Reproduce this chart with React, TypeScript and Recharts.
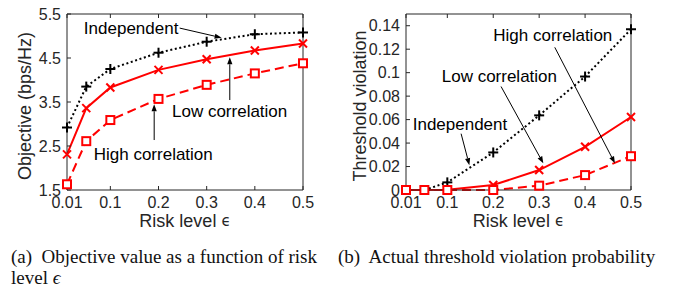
import React from "react";
import { LineChart, Line, XAxis, YAxis, ReferenceLine, ReferenceDot, Label } from "recharts";

// risk level on the x axis of both panels
const risk = [0.01, 0.05, 0.1, 0.2, 0.3, 0.4, 0.5];
const riskTicks = [0.01, 0.1, 0.2, 0.3, 0.4, 0.5];

// (a) objective, bps/Hz
const objIndependent = [2.92, 3.85, 4.25, 4.62, 4.87, 5.04, 5.08];
const objLow = [2.31, 3.36, 3.83, 4.23, 4.47, 4.67, 4.83];
const objHigh = [1.63, 2.61, 3.09, 3.57, 3.89, 4.15, 4.38];
const objTicks = [1.5, 2, 2.5, 3, 3.5, 4, 4.5, 5, 5.5];

// (b) actual threshold violation probability
const vioIndependent = [0, 0, 0.0065, 0.032, 0.0636, 0.0967, 0.137];
const vioLow = [0, 0, 0.0003, 0.0042, 0.017, 0.0368, 0.0622];
const vioHigh = [0, 0, 0, 0, 0.0037, 0.0127, 0.0288];
const vioTicks = [0, 0.02, 0.04, 0.06, 0.08, 0.1, 0.12, 0.14];

// text callouts with arrows, in data units: [x, y]
type Note = { text: string; at: [number, number]; from: [number, number]; to: [number, number] };
const objNotes: Note[] = [
  { text: "Independent", at: [0.045, 5.18], from: [0.244, 5.18], to: [0.331, 4.96] },
  { text: "Low correlation", at: [0.228, 3.295], from: [0.348, 3.545], to: [0.348, 4.516] },
  { text: "High correlation", at: [0.0655, 2.318], from: [0.191, 2.636], to: [0.191, 3.448] },
];
const vioNotes: Note[] = [
  { text: "High correlation", at: [0.2, 0.1321], from: [0.334, 0.1216], to: [0.465, 0.0227] },
  { text: "Low correlation", at: [0.0878, 0.0967], from: [0.217, 0.0882], to: [0.309, 0.0227] },
  { text: "Independent", at: [0.0246, 0.056], from: [0.13, 0.048], to: [0.148, 0.0212] },
];

const FONT = "'Liberation Sans', Arial, sans-serif";
const AXIS_COLOR = "#262626";
const TICK = { fontSize: 16, fill: AXIS_COLOR, fontFamily: FONT };
const RED = "#ff0000";

function Plus({ cx, cy }: any) {
  if (cx == null || cy == null) return null;
  const s = 5;
  return (
    <g stroke="#000" strokeWidth={2}>
      <line x1={cx - s} y1={cy} x2={cx + s} y2={cy} />
      <line x1={cx} y1={cy - s} x2={cx} y2={cy + s} />
    </g>
  );
}

function Cross({ cx, cy }: any) {
  if (cx == null || cy == null) return null;
  const s = 4;
  return (
    <g stroke={RED} strokeWidth={2}>
      <line x1={cx - s} y1={cy - s} x2={cx + s} y2={cy + s} />
      <line x1={cx - s} y1={cy + s} x2={cx + s} y2={cy - s} />
    </g>
  );
}

function Square({ cx, cy }: any) {
  if (cx == null || cy == null) return null;
  const s = 4;
  return <rect x={cx - s} y={cy - s} width={2 * s} height={2 * s} fill="#fff" stroke={RED} strokeWidth={2} />;
}

function Arrow({ x1, y1, x2, y2 }: any) {
  const a = Math.atan2(y2 - y1, x2 - x1);
  const L = 7, W = 2.6;
  const bx = x2 - L * Math.cos(a);
  const by = y2 - L * Math.sin(a);
  const pts = `${x2},${y2} ${bx + W * Math.sin(a)},${by - W * Math.cos(a)} ${bx - W * Math.sin(a)},${by + W * Math.cos(a)}`;
  return (
    <g>
      <line x1={x1} y1={y1} x2={bx} y2={by} stroke="#000" strokeWidth={1} />
      <polygon points={pts} fill="#000" />
    </g>
  );
}

function notesLayer(notes: Note[]) {
  return notes.flatMap((n, i) => [
    <ReferenceLine
      key={`a${i}`}
      segment={[{ x: n.from[0], y: n.from[1] }, { x: n.to[0], y: n.to[1] }]}
      ifOverflow="visible"
      shape={(p: any) => <Arrow {...p} />}
    />,
    <ReferenceDot
      key={`t${i}`}
      x={n.at[0]}
      y={n.at[1]}
      r={0}
      ifOverflow="visible"
      shape={(p: any) => (
        <text x={p.cx} y={p.cy} dominantBaseline="central" fontSize={17} fontFamily={FONT} fill="#000">
          {n.text}
        </text>
      )}
    />,
  ]);
}

function Panel({
  ind, low, high, ticks, domain, yLabel, notes, width, yWidth, right, yLabelX,
}: {
  ind: number[]; low: number[]; high: number[]; ticks: number[]; domain: [number, number];
  yLabel: string; notes: Note[]; width: number; yWidth: number; right: number; yLabelX: number;
}) {
  const rows = risk.map((x, i) => ({ x, ind: ind[i], low: low[i], high: high[i] }));
  return (
    <LineChart width={width} height={235} data={rows} margin={{ top: 13, right: right - 1, bottom: 0, left: 0 }}>
      <XAxis
        dataKey="x" type="number" domain={[0.01, 0.5]} ticks={riskTicks} height={45}
        tick={TICK} tickSize={-4} tickMargin={11} stroke={AXIS_COLOR}
      >
        <Label
          content={() => (
            <text x={yWidth + (width - yWidth - right) / 2} y={221} textAnchor="middle" dominantBaseline="central"
              fontSize={18} fontFamily={FONT} fill={AXIS_COLOR}>
              Risk level <tspan fontFamily="'DejaVu Sans'" fontSize={15}>{"\u03F5"}</tspan>
            </text>
          )}
        />
      </XAxis>
      <XAxis xAxisId="top" orientation="top" dataKey="x" type="number" domain={[0.01, 0.5]} ticks={riskTicks}
        height={1} tickSize={-4} tickMargin={0} tickFormatter={() => ""} stroke={AXIS_COLOR} />
      <YAxis
        type="number" domain={domain} ticks={ticks} width={yWidth}
        tick={TICK} tickSize={-4} tickMargin={10} stroke={AXIS_COLOR}
      >
        <Label
          content={() => (
            <text x={yLabelX} y={106} transform={`rotate(-90 ${yLabelX} 106)`} textAnchor="middle"
              dominantBaseline="central" fontSize={18} fontFamily={FONT} fill={AXIS_COLOR}>
              {yLabel}
            </text>
          )}
        />
      </YAxis>
      <YAxis yAxisId="right" orientation="right" type="number" domain={domain} ticks={ticks}
        width={1} tickSize={-4} tickMargin={0} tickFormatter={() => ""} stroke={AXIS_COLOR} />
      <Line dataKey="ind" stroke="#000" strokeWidth={2} strokeDasharray="2 2.6" dot={<Plus />} isAnimationActive={false} />
      <Line dataKey="low" stroke={RED} strokeWidth={2} dot={<Cross />} isAnimationActive={false} />
      <Line dataKey="high" stroke={RED} strokeWidth={2} strokeDasharray="9 5" dot={<Square />} isAnimationActive={false} />
      {notesLayer(notes)}
    </LineChart>
  );
}

const captionStyle: React.CSSProperties = {
  position: "absolute",
  fontFamily: "'Liberation Serif', 'Times New Roman', serif",
  fontSize: 19,
  lineHeight: "21px",
  color: "#111",
  whiteSpace: "nowrap",
};

export default function App() {
  return (
    <div style={{ position: "absolute", left: 0, top: 0, width: 678, height: 296, background: "#fff", overflow: "hidden" }}>
      <div style={{ position: "absolute", left: 0, top: 0 }}>
        <Panel ind={objIndependent} low={objLow} high={objHigh} ticks={objTicks} domain={[1.5, 5.5]}
          yLabel="Objective (bps/Hz)" notes={objNotes} width={340} yWidth={67} right={37} yLabelX={25} />
      </div>
      <div style={{ position: "absolute", left: 340, top: 0 }}>
        <Panel ind={vioIndependent} low={vioLow} high={vioHigh} ticks={vioTicks} domain={[0, 0.15]}
          yLabel="Threshold violation" notes={vioNotes} width={338} yWidth={66} right={47} yLabelX={20} />
      </div>
      <div style={{ ...captionStyle, left: 11, top: 246 }}>
        (a)&nbsp; Objective value as a function of risk
        <br />
        level <span style={{ fontStyle: "italic" }}>{"\u03F5"}</span>
      </div>
      <div style={{ ...captionStyle, left: 338, top: 246 }}>(b)&nbsp; Actual threshold violation probability</div>
    </div>
  );
}
